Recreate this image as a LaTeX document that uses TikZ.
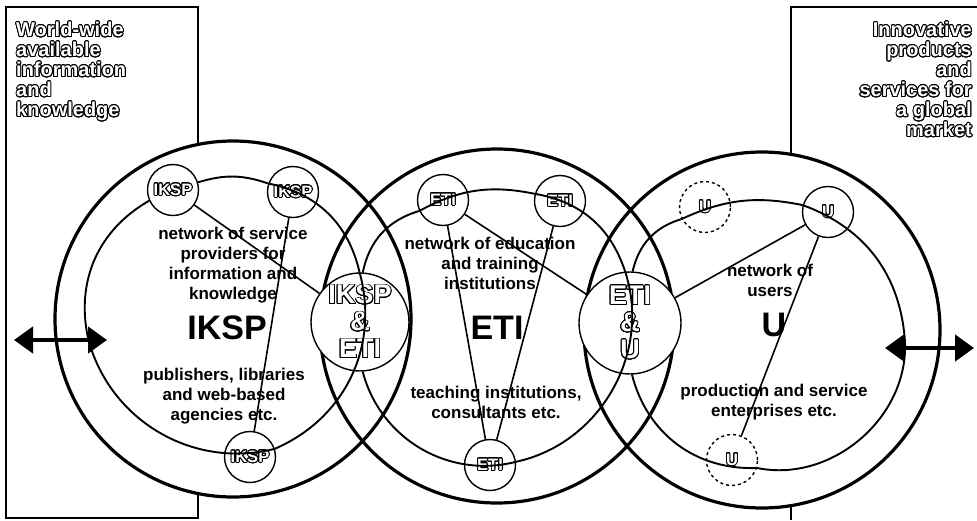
\documentclass[tikz,border=0pt]{standalone}
\usepackage{fontspec}
\setmainfont{Liberation Sans}
\usepackage[copies]{contour}
\contourlength{0.9pt}
\contournumber{24}
\usetikzlibrary{arrows.meta}

\newcommand{\hollow}[1]{\textcolor{white}{\contour{black}{#1}}}

\begin{document}
\begin{tikzpicture}[x=1pt,y=1pt,
  unit/.style={line width=3.2pt},
  ring/.style={line width=1.9pt},
  chord/.style={line width=1.6pt},
  member/.style={circle,draw,fill=white,line width=1.4pt,minimum size=51pt,inner sep=0pt,
    font=\fontsize{16.5}{16.5}\selectfont\bfseries},
  bridge/.style={member,minimum size=98pt,align=center,font=\fontsize{27}{27}\selectfont\bfseries},
  netlbl/.style={align=center,font=\fontsize{17}{20}\selectfont\bfseries},
  biglbl/.style={font=\fontsize{34}{34}\selectfont\bfseries},
  sidelbl/.style={inner sep=0pt,font=\fontsize{20}{20}\selectfont\bfseries}]
  \useasboundingbox (0,0) rectangle (977,-520);

  % frames for the outside world
  \draw[line width=1.2pt] (6,-7) rectangle (198,-518);
  \draw[line width=1.2pt] (977,-7) -| (791,-520);
  \node[sidelbl,anchor=north west,align=left] (world) at (16,-22)
    {\hollow{World-wide}\\\hollow{available}\\\hollow{information}\\\hollow{and}\\\hollow{knowledge}};
  \node[sidelbl,anchor=north east,align=right] (market) at (972,-22)
    {\hollow{Innovative}\\\hollow{products}\\\hollow{and}\\\hollow{services for}\\\hollow{a global}\\\hollow{market}};

  % the three units
  \coordinate (cIKSP) at (233,-319);
  \coordinate (cETI) at (497,-326);
  \coordinate (cU) at (762,-330);
  \fill[white] (cIKSP) circle[radius=178] (cETI) circle[radius=177] (cU) circle[radius=178];
  \draw[unit] (cIKSP) circle[radius=178] (cETI) circle[radius=177] (cU) circle[radius=178];

  % labels
  \node[netlbl] (netIKSP) at (233,-265) {network of service\\providers for\\information and\\knowledge};
  \node[biglbl] (bigIKSP) at (227,-328) {IKSP};
  \node[netlbl] (descIKSP) at (224,-396) {publishers, libraries\\and web-based\\agencies etc.};
  \node[netlbl] (netETI) at (490,-263) {network of education\\and training\\institutions};
  \node[biglbl] (bigETI) at (497,-328) {ETI};
  \node[netlbl] (descETI) at (496,-402) {teaching institutions,\\consultants etc.};
  \node[netlbl] (netU) at (770,-280) {network of\\users};
  \node[biglbl] (bigU) at (774,-325) {U};
  \node[netlbl] (descU) at (774,-402) {production and service\\enterprises etc.};

  % members of the networks
  \node[member] (iksp1) at (173,-190) {\hollow{IKSP}};
  \node[member] (iksp2) at (293,-192) {\hollow{IKSP}};
  \node[member] (iksp3) at (250,-457) {\hollow{IKSP}};
  \node[member] (eti1) at (443,-200) {\hollow{ETI}};
  \node[member] (eti2) at (560,-201) {\hollow{ETI}};
  \node[member] (eti3) at (490,-465) {\hollow{ETI}};
  \node[member,dashed] (u1) at (705,-207) {\hollow{U}};
  \node[member] (u2) at (828,-212) {\hollow{U}};
  \node[member,dashed] (u3) at (732,-460) {\hollow{U}};
  \node[bridge] (ikspeti) at (360,-322) {\hollow{IKSP}\\\hollow{\&}\\\hollow{ETI}};
  \node[bridge,minimum size=102pt] (etiu) at (630,-323) {\hollow{ETI}\\\hollow{\&}\\\hollow{U}};
  \coordinate (wIKSP) at (88,-338);
  \coordinate (eU) at (905,-342);

  % rings
  \draw[ring] (iksp1) to[bend left=18] (iksp2) to[bend left=33] (ikspeti) to[bend left=41] (iksp3)
    to[bend left=45] (wIKSP) to[bend left=36] (iksp1);
  \draw[ring] (ikspeti) to[bend left=31] (eti1) to[bend left=20] (eti2) to[bend left=31] (etiu)
    to[bend left=48] (eti3) to[bend left=45] (ikspeti);
  \draw[ring] (etiu) to[bend left=30] (u1) to[bend left=18] (u2) to[bend left=33] (eU)
    to[bend left=52] (u3) to[bend left=39] (etiu);

  % links across
  \draw[chord] (iksp1) -- (ikspeti);
  \draw[chord] (iksp2) -- (iksp3);
  \draw[chord] (eti1) -- (eti3);
  \draw[chord] (eti2) -- (eti3);
  \draw[chord] (eti1) -- (etiu);
  \draw[chord] (u2) -- (etiu);
  \draw[chord] (u2) -- (u3);

  % exchange with the outside
  \coordinate (worldL) at (14,-340);
  \coordinate (worldR) at (107,-340);
  \coordinate (marketL) at (885,-348);
  \coordinate (marketR) at (974,-348);
  \draw[line width=4.5pt,{Triangle[length=19pt,width=26pt]}-{Triangle[length=19pt,width=26pt]}] (worldL) -- (worldR);
  \draw[line width=4.5pt,{Triangle[length=19pt,width=26pt]}-{Triangle[length=19pt,width=26pt]}] (marketL) -- (marketR);
\end{tikzpicture}
\end{document}
